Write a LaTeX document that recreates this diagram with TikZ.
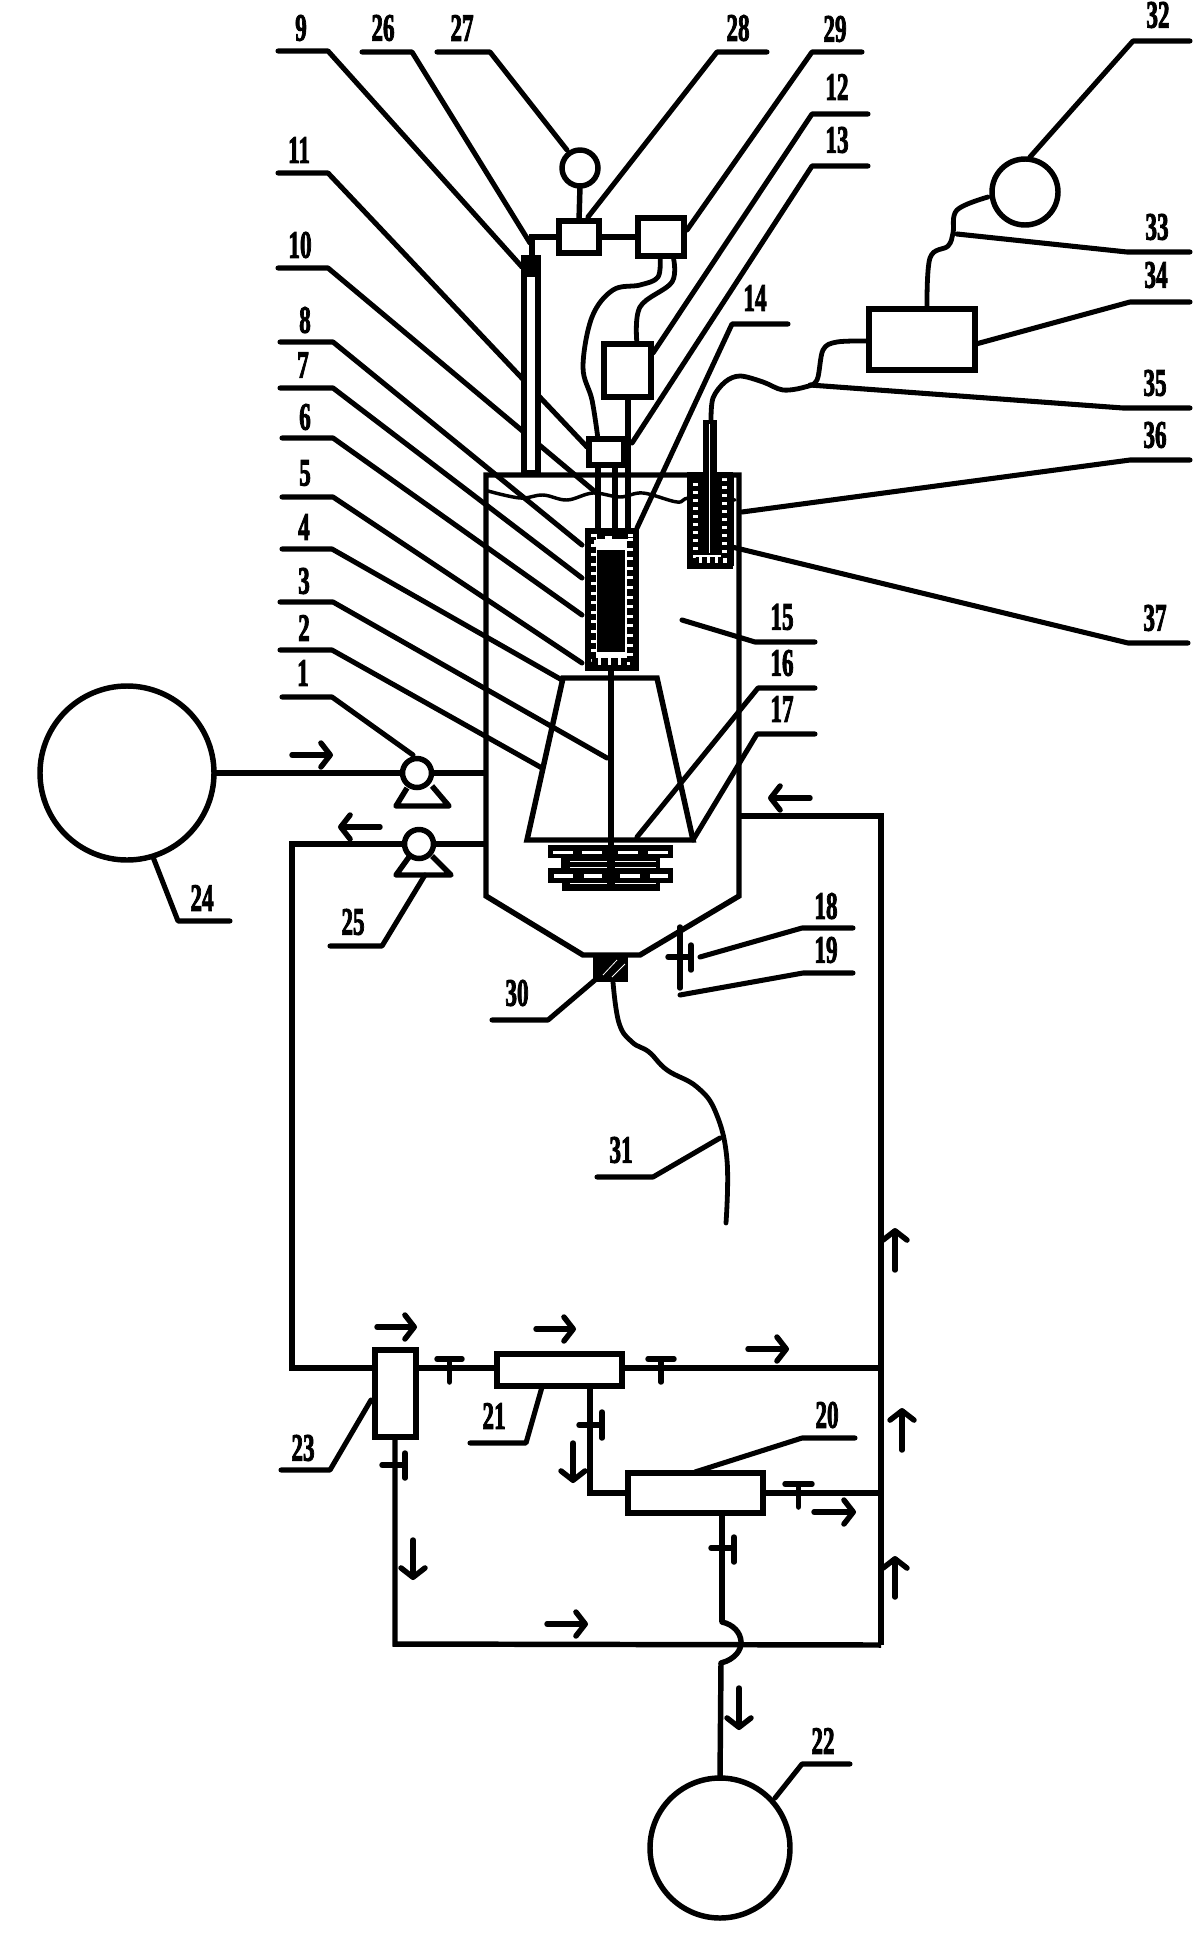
\documentclass[tikz,border=0pt]{standalone}
\usepackage{fontspec}
\usepackage{graphicx}
\usetikzlibrary{arrows.meta}
\newfontfamily\labfont[FakeBold=3]{Liberation Serif Bold}
\tikzset{
  x=0.75pt,y=-0.75pt,
  pipe/.style={line width=4.1pt,line join=miter,line cap=butt},
  lead/.style={line width=3.8pt,line join=round,line cap=round},
  cable/.style={line width=3.6pt,line cap=round,line join=round},
  pbox/.style={draw,line width=4.1pt,fill=white,rectangle,inner sep=0pt,outer sep=0pt},
  pcirc/.style={draw,line width=4.1pt,fill=white,circle,inner sep=0pt,outer sep=0pt},
  lab/.style={inner sep=0pt,font=\labfont\fontsize{29pt}{29pt}\selectfont},
  flow/.style={line width=4.1pt,line cap=round,-{Straight Barb[length=7pt,width=18pt,line width=4.1pt,round]}},
  valve/.style={line width=4.1pt,line cap=round}
}
\newcommand\boxn[5]{\node[pbox,minimum width={(#4-#2)*0.75pt},minimum height={(#5-#3)*0.75pt}] (#1) at ({(#2+#4)/2},{(#3+#5)/2}) {};}
\newcommand\circn[4]{\node[pcirc,minimum size={2*#4*0.75pt}] (#1) at (#2,#3) {};}
\newcommand\ldr[5]{\coordinate (#1-a) at (#2,#3);\coordinate (#1-b) at (#4,#3);\draw[lead] (#1-a)--(#1-b)--#5;}
\newcommand\lbl[4]{\node[lab] (#1) at (#2,#3) {\scalebox{0.6}[1]{#4}};}
\newcommand\tvalve[5]{\coordinate (#1-l) at (#2,#4);\coordinate (#1-r) at (#3,#4);\coordinate (#1-m) at ({(#2+#3)/2},#4);\coordinate (#1-s) at ({(#2+#3)/2},#5);\draw[valve] (#1-l)--(#1-r) (#1-m)--(#1-s);}
\newcommand\svalve[6]{\coordinate (#1-l) at (#2,#4);\coordinate (#1-r) at (#3,#4);\coordinate (#1-t) at (#3,#5);\coordinate (#1-u) at (#3,#6);\draw[valve] (#1-l)--(#1-r) (#1-t)--(#1-u);}
\begin{document}
\begin{tikzpicture}
\useasboundingbox (0,0) rectangle (1192,1959);
\fill[white] (0,0) rectangle (1192,1959);

% ---- vessel
\coordinate (vTL) at (486,475);\coordinate (vTR) at (739,475);
\coordinate (vBR) at (739,896);\coordinate (cR) at (640,955);
\coordinate (cL) at (583,955);\coordinate (vBL) at (486,896);
\draw[pipe] (vTL)--(vTR)--(vBR)--(cR)--(cL)--(vBL)--cycle;

% liquid surface
\draw[line width=2.6pt,line cap=round] plot[smooth,tension=.6] coordinates {(488,491) (520,498) (543,495) (567,500) (593,493) (620,497) (643,493) (677,502) (690,498) (735,500)};

% leaders
\ldr{L9}{278}{51}{328}{(522,267)}
\ldr{L26}{362}{52}{412}{(530,243)}
\ldr{L27}{437}{52}{490}{(567,150)}
\ldr{L28}{767}{52}{717}{(588,217)}
\ldr{L29}{862}{52}{812}{(687,230)}
\ldr{L12}{868}{114}{812}{(653,353)}
\ldr{L13}{868}{166}{812}{(632,443)}
\ldr{L14}{788}{324}{732}{(637,528)}
\ldr{L11}{278}{173}{328}{(587,447)}
\ldr{L10}{278}{268}{328}{(593,490)}
\ldr{L8}{280}{342}{333}{(582,545)}
\ldr{L7}{280}{388}{333}{(582,578)}
\ldr{L6}{282}{438}{333}{(582,615)}
\ldr{L5}{282}{497}{333}{(582,663)}
\ldr{L4}{282}{549}{332}{(562,680)}
\ldr{L3}{280}{602}{333}{(607,758)}
\ldr{L2}{280}{650}{332}{(542,768)}
\ldr{L1}{282}{697}{332}{(413,755)}
\ldr{L15}{815}{642}{755}{(682,620)}
\ldr{L16}{815}{688}{758}{(637,837)}
\ldr{L17}{815}{734}{757}{(693,840)}
\ldr{L36}{1190}{460}{1130}{(742,512)}
\ldr{L37}{1188}{643}{1128}{(732,547)}
\ldr{L35}{1190}{408}{1123}{(810,385)}
\ldr{L34}{1190}{302}{1130}{(976,344)}
\ldr{L33}{1190}{252}{1127}{(957,234)}
\ldr{L32}{1190}{41}{1133}{(1030,157)}
\ldr{L18}{853}{928}{802}{(700,957)}
\ldr{L19}{853}{973}{803}{(680,995)}
\ldr{L30}{492}{1020}{548}{(595,980)}
\ldr{L31}{597}{1177}{653}{(720,1138)}
\ldr{L24}{230}{921}{178}{(153,857)}
\ldr{L25}{330}{946}{382}{(425,875)}
\ldr{L23}{281}{1470}{330}{(371,1400)}
\ldr{L21}{470}{1443}{526}{(542,1387)}
\ldr{L20}{855}{1438}{802}{(695,1472)}
\ldr{L22}{850}{1764}{802}{(775,1798)}

% ---- stirred frustum
\coordinate (fTL) at (563,678);\coordinate (fTR) at (657,678);
\coordinate (fBR) at (693,840);\coordinate (fBL) at (527,840);
\draw[pipe] (fTL)--(fTR)--(fBR)--(fBL)--cycle;
\coordinate (shT) at (611,665);\coordinate (shB) at (611,888);
\draw[pipe] (shT)--(shB);

% impeller
\fill (548,845) rectangle (673,858);
\fill (561,858) rectangle (660,868);
\fill (548,868) rectangle (673,883);
\fill (562,883) rectangle (660,891);
\foreach \a/\b in {553/573,582/602,618/638,648/668}{\fill[white] (\a,850.5) rectangle (\b,854);}
\foreach \a/\b in {554/573,584/602,620/640,650/668}{\fill[white] (\a,874) rectangle (\b,877.5);}
\foreach \a/\b in {570/607,615/656}{\fill[white] (\a,860.5) rectangle (\b,861.5);\fill[white] (\a,866.5) rectangle (\b,867.5);\fill[white] (\a,882.6) rectangle (\b,883.6);}

% ---- nozzle
\fill (593,955) rectangle (628,982);
\draw[white,line width=.6pt] (603,975)--(617,960) (612,977)--(625,964);

% ---- discharge hose
\coordinate (hoseA) at (613,982);\coordinate (hoseB) at (726,1223);
\draw[cable] plot[smooth,tension=.7] coordinates {(hoseA) (619,1023) (632,1042) (649,1052) (667,1070) (697,1087) (716,1113) (727,1160) (hoseB)};

% ---- valve on cone
\coordinate (cv1) at (680,927);\coordinate (cv2) at (680,988);
\draw[valve] (cv1)--(cv2);
\coordinate (cv3) at (668,957);\coordinate (cv4) at (691,957);
\coordinate (cv5) at (691,945);\coordinate (cv6) at (691,970);
\draw[valve] (cv3)--(cv4) (cv5)--(cv6);

% ---- element in the vessel
\boxn{b11}{589}{439}{624}{465}
\draw[line width=3pt] (b11.north east)--(b11.south east);
\boxn{b12}{604}{344}{651}{397}
\boxn{b28}{559}{221}{599}{253}
\boxn{b29}{638}{218}{684}{256}
\circn{c27}{580}{168}{18}
\draw[pipe] (c27.south)--(b28.north);
\draw[pipe] (b28.east)--(b29.west);
\coordinate (topc) at (532,237);\coordinate (topd) at (532,258);
\draw[pipe,line join=miter] (b28.west)--(topc)--(topd);
\boxn{b9}{524}{258}{538}{473}
\fill (527,258) rectangle (535,277);

\coordinate (ca1) at (660,256);\coordinate (ca2) at (598,439);
\draw[cable] plot[smooth,tension=.6] coordinates {(ca1) (658,277) (640,285) (613,290) (592,317) (583,367) (592,400) (ca2)};
\coordinate (cb1) at (673,256);\coordinate (cb2) at (637,344);
\draw[cable] plot[smooth,tension=.6] coordinates {(cb1) (672,282) (640,307) (cb2)};

\coordinate (t1a) at (598,465);\coordinate (t1b) at (598,528);
\coordinate (t2a) at (615,465);\coordinate (t2b) at (615,528);
\coordinate (t3a) at (628,397);\coordinate (t3b) at (628,528);
\draw[pipe] (t1a)--(t1b) (t2a)--(t2b) (t3a)--(t3b);

\node[pbox,line width=4.5pt,minimum width={48*0.75pt},minimum height={137*0.75pt}] (sleeve) at (611.5,599) {};
\draw[line width=5.5pt,dash pattern=on 5pt off 2.2pt] (592,537)--(592,662)--(631,662)--(631,537);
\fill (597,550) rectangle (625,652);
\fill[white] (594,540) rectangle (627,546);
\fill (597,532) rectangle (628,539);
\fill[white] (605,536) rectangle (612,541);

% ---- sensor
\coordinate (s1) at (690,475);\coordinate (s2) at (730,475);
\coordinate (s3) at (730,566);\coordinate (s4) at (690,566);
\filldraw[fill=white,line width=4.1pt] (s1)--(s2)--(s3)--(s4)--cycle;
\draw[line width=4pt,dash pattern=on 4pt off 2pt] (696,478)--(696,560)--(724,560)--(724,478);
\fill (698,475) rectangle (722,555);
\fill (703,420) rectangle (717,475);
\draw[white,line width=.8pt] (709.5,424)--(709.5,553);
\draw[line width=1.2pt] (733,475)--(733,566);

% ---- controller
\boxn{b34}{869}{309}{975}{370}
\circn{c32}{1025}{192}{33}
\coordinate (cc1) at (988,197);\coordinate (cc2) at (927,309);
\draw[cable] plot[smooth,tension=.6] coordinates {(cc1) (957,210) (953,233) (948,246) (930,258) (cc2)};
\coordinate (cd1) at (869,341);\coordinate (cd2) at (711,420);
\draw[cable] plot[smooth,tension=.55] coordinates {(cd1) (837,342) (823,350) (817,380) (805,387) (783,390) (763,382) (740,376) (725,382) (713,398) (cd2)};

% ---- feed
\circn{c24}{127}{773}{87}
\circn{p1}{417}{773}{14.5}
\coordinate (p1a) at (407,788);\coordinate (p1b) at (396,806);\coordinate (p1c) at (449,806);\coordinate (p1d) at (432,786);
\draw[pipe,line join=round] (p1a)--(p1b)--(p1c)--(p1d);
\draw[pipe] (c24.east)--(p1.west);
\draw[pipe] (p1.east)--(p1.east-|vTL);
% ---- outlet pump
\circn{p25}{419}{844}{14.5}
\coordinate (p2a) at (409,857);\coordinate (p2b) at (396,875);\coordinate (p2c) at (451,875);\coordinate (p2d) at (432,856);
\draw[pipe,line join=round] (p2a)--(p2b)--(p2c)--(p2d);
\draw[pipe] (p25.east)--(p25.east-|vTL);

% ---- filter train
\boxn{b23}{375}{1350}{416}{1437}
\boxn{b21}{497}{1354}{622}{1386}
\boxn{b20}{628}{1473}{763}{1513}
\coordinate (lrT) at (292,844);\coordinate (lrB) at (292,1368);
\draw[pipe] (p25.west)--(lrT)--(lrB)--(lrB-|b23.west);
\coordinate (rrT) at (881,816);\coordinate (rrB) at (881,1645);
\coordinate (rr0) at (739,816);
\draw[pipe] (rr0)--(rrT)--(rrB);
\coordinate (lbT) at (395,1437);\coordinate (lbL) at (395,1644);
\draw[pipe,line join=miter] (lbT)--(lbL)--(rrB);
\coordinate (j23a) at (416,1368);\coordinate (j23b) at (497,1368);
\draw[pipe] (j23a)--(j23b);
\coordinate (j21a) at (622,1368);\coordinate (j21b) at (881,1368);
\draw[pipe] (j21a)--(j21b);
\coordinate (d21a) at (590,1386);\coordinate (d21b) at (590,1493);
\draw[pipe] (d21a)--(d21b)--(b20.west);
\draw[pipe] (b20.east)--(b20.east-|rrT);
\circn{c22}{720}{1848}{70}
\coordinate (o20a) at (722,1513);\coordinate (o20b) at (722,1622);
\coordinate (o20c) at (721,1663);
\draw[pipe] (o20a)--(o20b);
\draw[pipe,line cap=round] (o20b)..controls (745,1627) and (750,1655) ..(o20c);
\draw[pipe] (o20c)--(c22.north);

\tvalve{v1}{437}{462}{1359}{1382}
\tvalve{v2}{648}{674}{1359}{1382}
\tvalve{v3}{785}{812}{1484}{1507}
\svalve{v4}{382}{405}{1465}{1453}{1478}
\svalve{v5}{579}{602}{1425}{1412}{1438}
\svalve{v6}{711}{734}{1548}{1537}{1562}

% ---- flow arrows
\draw[flow] (292,755)--(333,755);
\draw[flow] (380,827)--(338,827);
\draw[flow] (810,798)--(768,798);
\draw[flow] (895,1270)--(895,1228);
\draw[flow] (902,1450)--(902,1408);
\draw[flow] (895,1597)--(895,1556);
\draw[flow] (377,1327)--(417,1327);
\draw[flow] (536,1329)--(576,1329);
\draw[flow] (748,1349)--(789,1349);
\draw[flow] (573,1443)--(573,1483);
\draw[flow] (814,1512)--(856,1512);
\draw[flow] (413,1540)--(413,1580);
\draw[flow] (547,1624)--(588,1624);
\draw[flow] (739,1688)--(739,1730);

% ---- labels
\lbl{n9}{301}{28}{9}
\lbl{n26}{383}{28}{26}
\lbl{n27}{462}{28}{27}
\lbl{n28}{738}{28}{28}
\lbl{n29}{835}{29}{29}
\lbl{n12}{837}{87}{12}
\lbl{n13}{837}{140}{13}
\lbl{n14}{755}{298}{14}
\lbl{n11}{299}{150}{11}
\lbl{n10}{300}{245}{10}
\lbl{n8}{305}{320}{8}
\lbl{n7}{303}{365}{7}
\lbl{n6}{305}{417}{6}
\lbl{n5}{305}{473}{5}
\lbl{n4}{304}{527}{4}
\lbl{n3}{304}{581}{3}
\lbl{n2}{304}{628}{2}
\lbl{n1}{303}{673}{1}
\lbl{n32}{1158}{15}{32}
\lbl{n33}{1157}{227}{33}
\lbl{n34}{1156}{275}{34}
\lbl{n35}{1155}{383}{35}
\lbl{n36}{1155}{435}{36}
\lbl{n37}{1155}{618}{37}
\lbl{n15}{782}{617}{15}
\lbl{n16}{782}{663}{16}
\lbl{n17}{782}{709}{17}
\lbl{n18}{826}{906}{18}
\lbl{n19}{826}{950}{19}
\lbl{n30}{517}{993}{30}
\lbl{n31}{621}{1150}{31}
\lbl{n24}{202}{898}{24}
\lbl{n25}{353}{922}{25}
\lbl{n23}{303}{1448}{23}
\lbl{n21}{494}{1416}{21}
\lbl{n20}{827}{1415}{20}
\lbl{n22}{823}{1741}{22}
\end{tikzpicture}
\end{document}
